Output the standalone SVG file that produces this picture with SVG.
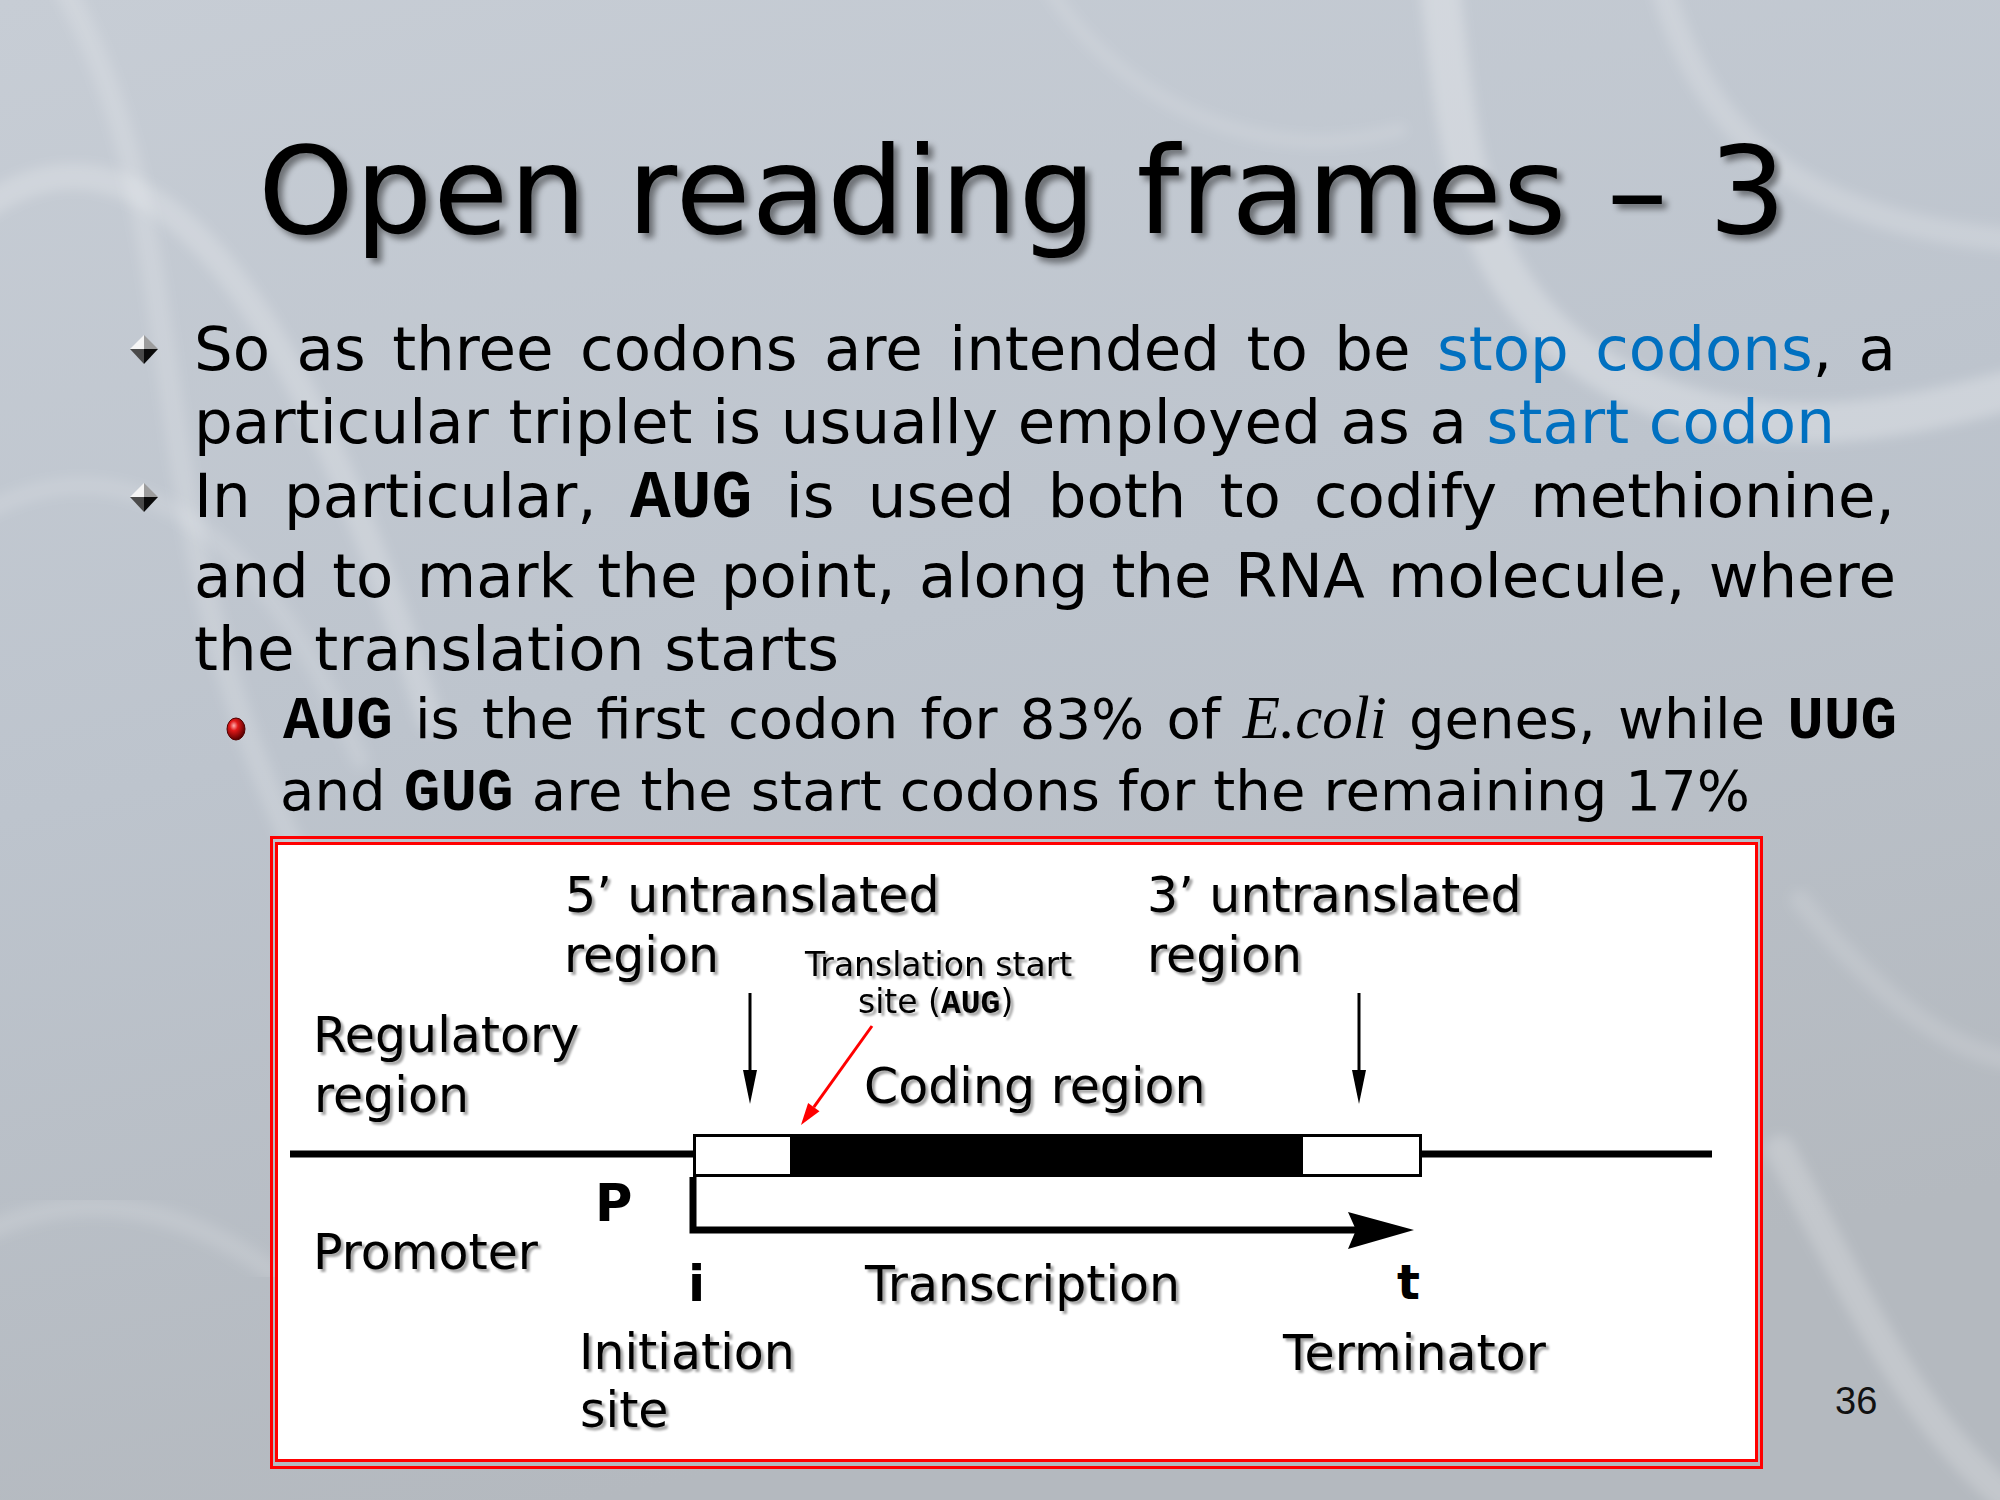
<svg xmlns="http://www.w3.org/2000/svg" width="2000" height="1500" viewBox="0 0 2000 1500">
  <defs>
    <linearGradient id="bg" x1="0" y1="0" x2="0.3" y2="1">
      <stop offset="0" stop-color="#c7cdd5"/>
      <stop offset="0.5" stop-color="#bdc4cd"/>
      <stop offset="1" stop-color="#b4b9bf"/>
    </linearGradient>
    <radialGradient id="ball" cx="0.38" cy="0.35" r="0.65">
      <stop offset="0" stop-color="#ffb0b0"/>
      <stop offset="0.35" stop-color="#e01818"/>
      <stop offset="1" stop-color="#5a0000"/>
    </radialGradient>
    <filter id="blur" x="-10%" y="-10%" width="120%" height="120%">
      <feGaussianBlur stdDeviation="6"/>
    </filter>
    <filter id="titleShadow" x="-5%" y="-20%" width="110%" height="150%">
      <feDropShadow dx="5" dy="5" stdDeviation="3" flood-color="#000" flood-opacity="0.45"/>
    </filter>
    <filter id="labelShadow" x="-5%" y="-20%" width="110%" height="150%">
      <feDropShadow dx="3" dy="3" stdDeviation="1.2" flood-color="#000" flood-opacity="0.35"/>
    </filter>
    <g id="diamond">
      <polygon points="0,-14 0,0 -14,0" fill="#f5f5f5"/>
      <polygon points="0,-14 14,0 0,0" fill="#9c9c9c"/>
      <polygon points="-14,0 0,0 0,15" fill="#4a4a4a"/>
      <polygon points="0,0 14,0 0,15" fill="#0a0a0a"/>
    </g>
    <marker id="downHead" markerUnits="userSpaceOnUse" markerWidth="40" markerHeight="20" viewBox="0 -10 40 20" refX="0" refY="0" orient="auto" overflow="visible">
      <path d="M0,-7 L34,0 L0,7 z" fill="#000"/>
    </marker>
    <marker id="redHead" markerUnits="userSpaceOnUse" markerWidth="24" markerHeight="16" viewBox="0 -8 24 16" refX="0" refY="0" orient="auto" overflow="visible">
      <path d="M0,-7 L22,0 L0,7 z" fill="#ff0000"/>
    </marker>
    <marker id="bigHead" markerUnits="userSpaceOnUse" markerWidth="70" markerHeight="40" viewBox="0 -20 70 40" refX="12" refY="0" orient="auto" overflow="visible">
      <path d="M0,-18 L66,0 L0,19 L8,0 z" fill="#000"/>
    </marker>
    <style>
      .body { font-family: "DejaVu Sans", Verdana, sans-serif; font-size: 61px; fill: #000; }
      .sub { font-family: "DejaVu Sans", Verdana, sans-serif; font-size: 56px; fill: #000; }
      .mono { font-family: "Courier New", "Liberation Mono", monospace; font-weight: bold; }
      .ital { font-family: "Liberation Serif", "Times New Roman", serif; font-style: italic; }
      .blue { fill: #0070c0; }
      .lbl { font-family: "DejaVu Sans", Verdana, sans-serif; font-size: 49px; fill: #000; filter: url(#labelShadow); }
      .small { font-family: "DejaVu Sans", Verdana, sans-serif; font-size: 33px; fill: #000; filter: url(#labelShadow); }
      .bold { font-family: "DejaVu Sans", Verdana, sans-serif; font-weight: bold; fill: #000; }
      .helix { fill: none; stroke: #ffffff; stroke-linecap: round; filter: url(#blur); }
    </style>
  </defs>

  <!-- background -->
  <g id="background">
    <rect x="0" y="0" width="2000" height="1500" fill="url(#bg)"/>
    <path class="helix" d="M-20,210 C150,90 300,300 430,720" stroke-width="26" stroke-opacity="0.2"/>
    <path class="helix" d="M60,-20 C210,250 120,520 320,900" stroke-width="22" stroke-opacity="0.16"/>
    <path class="helix" d="M-30,520 C120,430 260,520 360,760" stroke-width="18" stroke-opacity="0.13"/>
    <path class="helix" d="M1440,-10 C1460,160 1470,300 1620,380 C1760,450 1900,420 2010,390" stroke-width="40" stroke-opacity="0.26"/>
    <path class="helix" d="M1660,-20 C1700,120 1780,220 2010,240" stroke-width="24" stroke-opacity="0.18"/>
    <path class="helix" d="M1050,-10 C1120,100 1260,170 1400,130" stroke-width="14" stroke-opacity="0.12"/>
    <path class="helix" d="M1780,1150 C1860,1300 1910,1420 2010,1500" stroke-width="30" stroke-opacity="0.2"/>
    <path class="helix" d="M1800,900 C1880,1000 1950,1050 2010,1060" stroke-width="20" stroke-opacity="0.13"/>
    <path class="helix" d="M-10,1230 C100,1180 200,1220 270,1270" stroke-width="20" stroke-opacity="0.13"/>
  </g>

  <!-- title -->
  <g id="title">
    <text x="258" y="233" font-family="DejaVu Sans, Verdana, sans-serif" font-size="122" fill="#000" filter="url(#titleShadow)" textLength="1528" lengthAdjust="spacing">Open reading frames – 3</text>
  </g>

  <!-- bullet text -->
  <g id="bullets">
    <use href="#diamond" x="144" y="349"/>
    <use href="#diamond" x="144" y="497"/>
    <ellipse cx="236" cy="729" rx="9" ry="11" fill="url(#ball)" stroke="#500000" stroke-width="1"/>

    <text class="body" x="194" y="370" word-spacing="7" textLength="1702" lengthAdjust="spacing">So as three codons are intended to be <tspan class="blue">stop codons</tspan>, a</text>
    <text class="body" x="194" y="443" textLength="1641" lengthAdjust="spacing">particular triplet is usually employed as a <tspan class="blue">start codon</tspan></text>
    <text class="body" x="194" y="517" word-spacing="14" textLength="1701" lengthAdjust="spacing">In particular, <tspan class="mono" font-size="68">AUG</tspan> is used both to codify methionine,</text>
    <text class="body" x="194" y="597" word-spacing="4" textLength="1702" lengthAdjust="spacing">and to mark the point, along the RNA molecule, where</text>
    <text class="body" x="194" y="670" textLength="645" lengthAdjust="spacing">the translation starts</text>

    <text class="sub" x="283" y="738" word-spacing="4.5" textLength="1614" lengthAdjust="spacing"><tspan class="mono" font-size="61">AUG</tspan> is the first codon for 83% of <tspan class="ital" font-size="61">E.coli</tspan> genes, while <tspan class="mono" font-size="61">UUG</tspan></text>
    <text class="sub" x="280" y="810" textLength="1470" lengthAdjust="spacing">and <tspan class="mono" font-size="61">GUG</tspan> are the start codons for the remaining 17%</text>
  </g>

  <!-- diagram frame -->
  <g id="frame">
    <rect x="271.5" y="837.5" width="1490" height="630" fill="none" stroke="#ff0000" stroke-width="3"/>
    <rect x="276.5" y="843.5" width="1480" height="617" fill="#ffffff" stroke="#ff0000" stroke-width="3"/>
  </g>

  <!-- DNA line and gene box -->
  <g id="dna-line">
    <line x1="290" y1="1154" x2="1712" y2="1154" stroke="#000" stroke-width="7"/>
  </g>
  <g id="gene-box">
    <rect x="694.5" y="1135.5" width="726" height="40" fill="#ffffff" stroke="#000" stroke-width="3"/>
    <rect x="790" y="1135" width="513" height="42" fill="#000"/>
  </g>

  <!-- connectors -->
  <g id="connectors">
    <line x1="750" y1="993" x2="750" y2="1070" stroke="#000" stroke-width="3" marker-end="url(#downHead)"/>
    <line x1="1359" y1="993" x2="1359" y2="1070" stroke="#000" stroke-width="3" marker-end="url(#downHead)"/>
    <line x1="872" y1="1026" x2="813.8" y2="1107.1" stroke="#ff0000" stroke-width="3" marker-end="url(#redHead)"/>
    <path d="M693,1177 V1230 H1360" fill="none" stroke="#000" stroke-width="7" marker-end="url(#bigHead)"/>
  </g>

  <!-- labels -->
  <g id="utr5">
    <text class="lbl" x="565" y="912">5’ untranslated</text>
    <text class="lbl" x="564" y="972">region</text>
  </g>
  <g id="utr3">
    <text class="lbl" x="1147" y="912">3’ untranslated</text>
    <text class="lbl" x="1147" y="972">region</text>
  </g>
  <g id="start-site">
    <text class="small" x="805" y="976">Translation start</text>
    <text class="small" x="858" y="1013">site (<tspan class="mono" font-size="33">AUG</tspan>)</text>
  </g>
  <g id="regulatory">
    <text class="lbl" x="313" y="1052">Regulatory</text>
    <text class="lbl" x="314" y="1112">region</text>
  </g>
  <g id="coding">
    <text class="lbl" x="864" y="1103">Coding region</text>
  </g>
  <g id="promoter">
    <text class="lbl" x="313" y="1269">Promoter</text>
    <text class="bold" x="595" y="1221" font-size="51">P</text>
  </g>
  <g id="transcription">
    <text class="lbl" x="865" y="1301">Transcription</text>
  </g>
  <g id="initiation">
    <text class="bold" x="688" y="1301" font-size="50">i</text>
    <text class="lbl" x="579" y="1369">Initiation</text>
    <text class="lbl" x="580" y="1427">site</text>
  </g>
  <g id="terminator">
    <text class="bold" x="1397" y="1299" font-size="48">t</text>
    <text class="lbl" x="1283" y="1370">Terminator</text>
  </g>

  <g id="page-number">
    <text x="1835" y="1414" font-family="Liberation Sans, Arial, sans-serif" font-size="38" fill="#111">36</text>
  </g>
</svg>
